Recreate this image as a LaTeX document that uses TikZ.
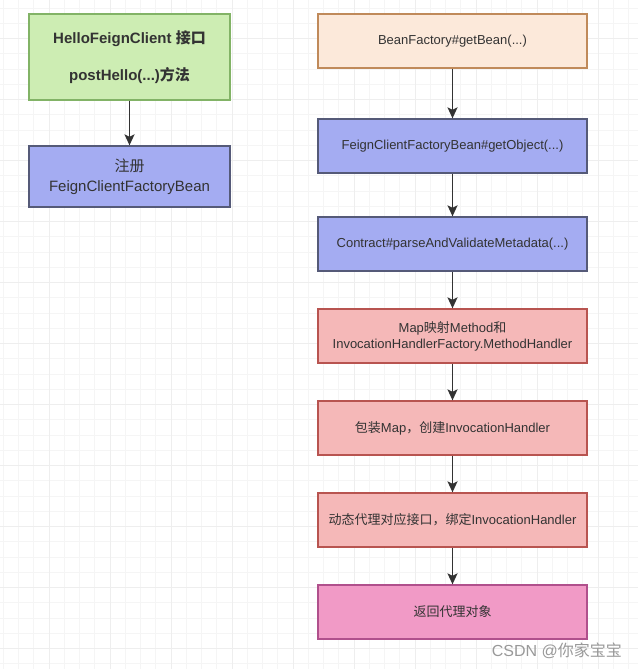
\documentclass[tikz,border=0pt]{standalone}
\usepackage{fontspec}
\setmainfont{Liberation Sans}
\newfontfamily\cjk{Noto Sans CJK SC}
\usetikzlibrary{arrows.meta}
\newcommand\zhtxt[1]{{\cjk #1}}
\definecolor{txt}{HTML}{333333}
\definecolor{gfill}{HTML}{CDEDB3}
\definecolor{gline}{HTML}{82B366}
\definecolor{ofill}{HTML}{FCE9DA}
\definecolor{oline}{HTML}{C08A5A}
\definecolor{bfill}{HTML}{A4ACF2}
\definecolor{bline}{HTML}{555A78}
\definecolor{rfill}{HTML}{F5B8B8}
\definecolor{rline}{HTML}{B85450}
\definecolor{pfill}{HTML}{F19AC6}
\definecolor{pline}{HTML}{B0508C}
\definecolor{minorg}{HTML}{F5F5F5}
\definecolor{majorg}{HTML}{EEEEEE}
\tikzset{
  minorgrid/.style={minorg, line width=1pt},
  majorgrid/.style={majorg, line width=1pt},
  box/.style={draw, line width=1.3pt, inner sep=0pt, align=center, text=txt},
  leftbox/.style={box, minimum width=201pt, minimum height=61pt, font=\fontsize{15}{20}\selectfont},
  rightbox/.style={box, minimum width=269pt, minimum height=54pt, font=\fontsize{13}{16}\selectfont},
  arr/.style={draw=txt, line width=1.7pt, -{Stealth[length=11pt,width=10pt,inset=2.5pt]}},
}
\begin{document}
\begin{tikzpicture}[x=1pt,y=-1pt]
\fill[white] (0,0) rectangle (638,669);
\useasboundingbox (0,0) rectangle (638,669);
% grid
\foreach \i in {-3,...,39} \draw[minorgrid] ({49+15.25*\i},0) -- ({49+15.25*\i},669);
\foreach \i in {-2,...,41} \draw[minorgrid] (0,{38.7+15.25*\i}) -- (638,{38.7+15.25*\i});
\foreach \i in {0,...,10} \draw[majorgrid] ({49+61*\i},0) -- ({49+61*\i},669);
\foreach \i in {0,...,10} \draw[majorgrid] (0,{38.7+61*\i}) -- (638,{38.7+61*\i});
% left column
\node[leftbox, fill=gfill, draw=gline, minimum height=86pt, font=\fontsize{15}{20}\selectfont\bfseries] (g) at (129.5,57)
  {HelloFeignClient \zhtxt{接口}\\[17pt]postHello(...)\zhtxt{方法}};
\node[leftbox, fill=bfill, draw=bline] (reg) at (129.5,176.5)
  {\zhtxt{注册}\\FeignClientFactoryBean};
\draw[arr] (g.south) -- (reg.north);
% right column
\node[rightbox, fill=ofill, draw=oline] (r1) at (452.5,41) {BeanFactory\#getBean(...)};
\node[rightbox, fill=bfill, draw=bline] (r2) at (452.5,146) {FeignClientFactoryBean\#getObject(...)};
\node[rightbox, fill=bfill, draw=bline] (r3) at (452.5,244) {Contract\#parseAndValidateMetadata(...)};
\node[rightbox, fill=rfill, draw=rline] (r4) at (452.5,336) {Map\zhtxt{映射}Method\zhtxt{和}\\InvocationHandlerFactory.MethodHandler};
\node[rightbox, fill=rfill, draw=rline] (r5) at (452.5,428) {\zhtxt{包装}Map\zhtxt{，创建}InvocationHandler};
\node[rightbox, fill=rfill, draw=rline] (r6) at (452.5,520) {\zhtxt{动态代理对应接口，绑定}InvocationHandler};
\node[rightbox, fill=pfill, draw=pline] (r7) at (452.5,612) {\zhtxt{返回代理对象}};
\draw[arr] (r1) -- (r2);
\draw[arr] (r2) -- (r3);
\draw[arr] (r3) -- (r4);
\draw[arr] (r4) -- (r5);
\draw[arr] (r5) -- (r6);
\draw[arr] (r6) -- (r7);
% watermark
\node[anchor=east, text=black!40, font=\fontsize{16}{18}\selectfont, inner sep=0pt] (wm) at (622,651) {CSDN @\zhtxt{你家宝宝}};
\end{tikzpicture}
\end{document}
